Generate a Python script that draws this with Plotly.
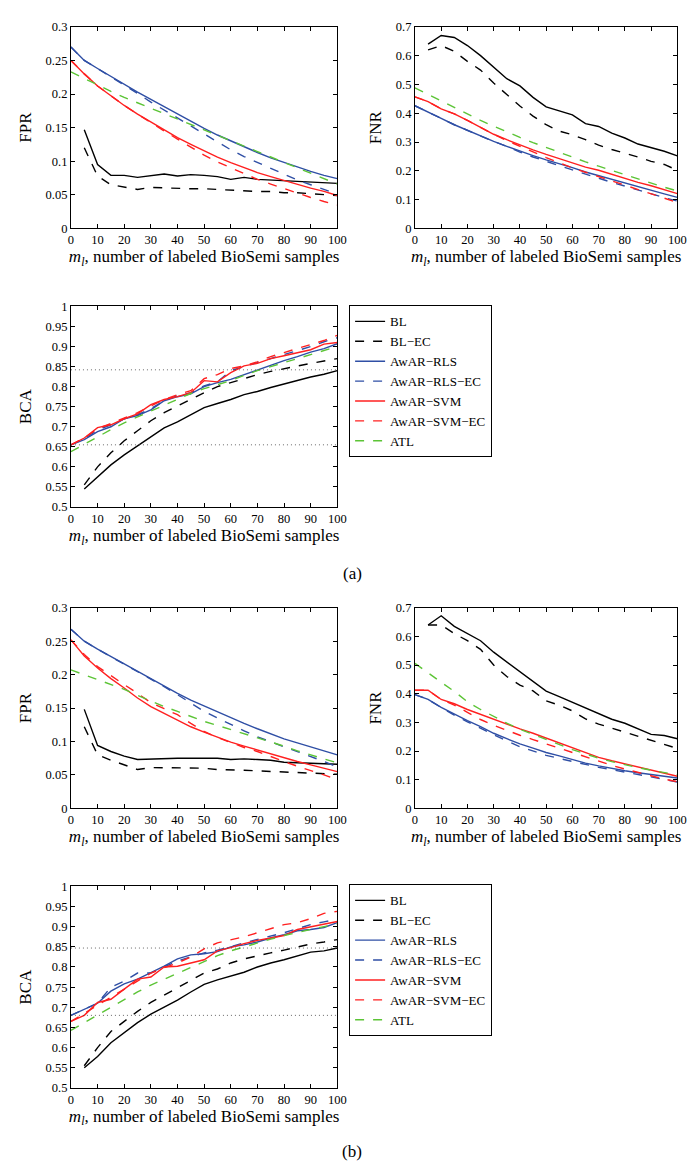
import plotly.graph_objects as go

X = [0, 5, 10, 15, 20, 25, 30, 35, 40, 45, 50, 55, 60, 65, 70, 75, 80, 85, 90, 95, 100]
N = None

names = ["BL", "BL−EC", "AwAR−RLS", "AwAR−RLS−EC", "AwAR−SVM", "AwAR−SVM−EC", "ATL"]
colors = ["#000000", "#000000", "#2f4fa5", "#2f4fa5", "#ff2020", "#ff2020", "#5cc436"]
dashes = ["solid", "dash", "solid", "dash", "solid", "dash", "dash"]

# ---------- (a) FPR ----------
a_fpr_bl = [N, 0.147, 0.095, 0.079, 0.079, 0.076, 0.079, 0.081, 0.078, 0.080, 0.079, 0.077, 0.073, 0.076, 0.073, 0.072, 0.071, 0.070, 0.068, 0.067, 0.067]
a_fpr_blec = [N, 0.120, 0.078, 0.065, 0.061, 0.058, 0.061, 0.060, 0.059, 0.059, 0.059, 0.058, 0.056, 0.055, 0.055, 0.055, 0.053, 0.053, 0.052, 0.050, 0.049]
a_fpr_rls = [0.270, 0.250, 0.238, 0.226, 0.214, 0.203, 0.192, 0.181, 0.170, 0.159, 0.149, 0.139, 0.130, 0.121, 0.113, 0.105, 0.098, 0.091, 0.085, 0.079, 0.074]
a_fpr_rlsec = [0.270, 0.250, 0.238, 0.226, 0.213, 0.201, 0.188, 0.176, 0.164, 0.152, 0.141, 0.129, 0.117, 0.107, 0.098, 0.089, 0.080, 0.072, 0.065, 0.058, 0.051]
a_fpr_svm = [0.250, 0.230, 0.212, 0.197, 0.183, 0.170, 0.158, 0.146, 0.135, 0.125, 0.115, 0.106, 0.098, 0.090, 0.083, 0.077, 0.071, 0.065, 0.060, 0.055, 0.049]
a_fpr_svmec = [0.250, 0.230, 0.212, 0.197, 0.183, 0.170, 0.157, 0.145, 0.133, 0.121, 0.109, 0.099, 0.090, 0.081, 0.073, 0.066, 0.059, 0.052, 0.046, 0.040, 0.035]
a_fpr_atl = [0.233, 0.223, 0.213, 0.204, 0.195, 0.187, 0.178, 0.170, 0.162, 0.154, 0.146, 0.138, 0.130, 0.122, 0.114, 0.106, 0.098, 0.090, 0.082, 0.074, 0.066]

# ---------- (a) FNR ----------
a_fnr_bl = [N, 0.640, 0.670, 0.663, 0.635, 0.600, 0.560, 0.520, 0.495, 0.455, 0.422, 0.408, 0.394, 0.364, 0.354, 0.331, 0.314, 0.293, 0.280, 0.268, 0.252]
a_fnr_blec = [N, 0.620, 0.635, 0.615, 0.580, 0.550, 0.505, 0.465, 0.425, 0.390, 0.360, 0.338, 0.325, 0.308, 0.289, 0.274, 0.262, 0.248, 0.233, 0.222, 0.202]
a_fnr_rls = [0.426, 0.405, 0.382, 0.360, 0.340, 0.322, 0.302, 0.285, 0.268, 0.253, 0.238, 0.225, 0.211, 0.196, 0.183, 0.170, 0.158, 0.146, 0.133, 0.120, 0.108]
a_fnr_rlsec = [0.426, 0.405, 0.382, 0.360, 0.340, 0.322, 0.302, 0.285, 0.265, 0.248, 0.232, 0.218, 0.203, 0.188, 0.174, 0.160, 0.147, 0.133, 0.120, 0.107, 0.095]
a_fnr_svm = [0.457, 0.440, 0.415, 0.398, 0.375, 0.350, 0.327, 0.308, 0.290, 0.273, 0.257, 0.242, 0.228, 0.213, 0.202, 0.188, 0.173, 0.160, 0.148, 0.135, 0.121]
a_fnr_svmec = [0.457, 0.440, 0.415, 0.398, 0.375, 0.350, 0.327, 0.305, 0.285, 0.265, 0.246, 0.228, 0.210, 0.195, 0.180, 0.164, 0.149, 0.135, 0.120, 0.105, 0.090]
a_fnr_atl = [0.488, 0.465, 0.442, 0.419, 0.397, 0.375, 0.355, 0.335, 0.316, 0.298, 0.281, 0.264, 0.247, 0.231, 0.216, 0.201, 0.186, 0.171, 0.157, 0.143, 0.130]

# ---------- (a) BCA ----------
a_bca_bl = [N, 0.545, 0.575, 0.605, 0.630, 0.652, 0.675, 0.697, 0.712, 0.730, 0.748, 0.758, 0.768, 0.780, 0.788, 0.798, 0.807, 0.816, 0.824, 0.831, 0.840]
a_bca_blec = [N, 0.555, 0.600, 0.635, 0.665, 0.690, 0.715, 0.735, 0.752, 0.768, 0.785, 0.800, 0.810, 0.820, 0.830, 0.838, 0.845, 0.852, 0.858, 0.864, 0.870]
a_bca_rls = [0.655, 0.668, 0.688, 0.700, 0.720, 0.728, 0.742, 0.765, 0.775, 0.782, 0.800, 0.810, 0.818, 0.830, 0.840, 0.852, 0.865, 0.875, 0.886, 0.895, 0.907]
a_bca_rlsec = [0.655, 0.670, 0.692, 0.705, 0.720, 0.730, 0.745, 0.765, 0.778, 0.785, 0.802, 0.812, 0.840, 0.850, 0.860, 0.870, 0.880, 0.890, 0.900, 0.912, 0.922]
a_bca_svm = [0.655, 0.672, 0.698, 0.705, 0.720, 0.732, 0.755, 0.768, 0.775, 0.785, 0.815, 0.812, 0.835, 0.852, 0.858, 0.870, 0.877, 0.884, 0.892, 0.906, 0.910]
a_bca_svmec = [0.655, 0.672, 0.695, 0.708, 0.720, 0.735, 0.752, 0.768, 0.780, 0.790, 0.820, 0.830, 0.845, 0.852, 0.862, 0.875, 0.885, 0.895, 0.905, 0.915, 0.928]
a_bca_atl = [0.638, 0.657, 0.675, 0.693, 0.710, 0.725, 0.740, 0.755, 0.770, 0.783, 0.795, 0.805, 0.815, 0.828, 0.840, 0.850, 0.860, 0.870, 0.880, 0.890, 0.900]
a_bca_ref = [0.655, 0.842]

# ---------- (b) FPR ----------
b_fpr_bl = [N, 0.148, 0.094, 0.085, 0.078, 0.073, 0.074, 0.074, 0.075, 0.075, 0.075, 0.075, 0.073, 0.074, 0.073, 0.072, 0.069, 0.068, 0.067, 0.066, 0.066]
b_fpr_blec = [N, 0.122, 0.080, 0.072, 0.065, 0.058, 0.061, 0.061, 0.060, 0.060, 0.060, 0.058, 0.058, 0.057, 0.056, 0.055, 0.054, 0.053, 0.053, 0.052, 0.051]
b_fpr_rls = [0.268, 0.250, 0.238, 0.227, 0.215, 0.204, 0.193, 0.183, 0.172, 0.162, 0.153, 0.144, 0.135, 0.127, 0.119, 0.111, 0.104, 0.098, 0.092, 0.086, 0.080]
b_fpr_rlsec = [0.268, 0.250, 0.238, 0.227, 0.215, 0.204, 0.193, 0.182, 0.170, 0.157, 0.145, 0.135, 0.125, 0.116, 0.107, 0.099, 0.092, 0.085, 0.078, 0.070, 0.062]
b_fpr_svm = [0.252, 0.228, 0.210, 0.194, 0.180, 0.165, 0.152, 0.142, 0.132, 0.122, 0.114, 0.106, 0.099, 0.093, 0.087, 0.081, 0.075, 0.070, 0.065, 0.060, 0.055]
b_fpr_svmec = [0.252, 0.230, 0.212, 0.198, 0.185, 0.172, 0.158, 0.149, 0.140, 0.127, 0.115, 0.106, 0.098, 0.091, 0.085, 0.077, 0.070, 0.063, 0.057, 0.050, 0.043]
b_fpr_atl = [0.207, 0.200, 0.193, 0.185, 0.178, 0.169, 0.160, 0.152, 0.145, 0.137, 0.130, 0.124, 0.118, 0.111, 0.105, 0.099, 0.093, 0.086, 0.080, 0.074, 0.068]

# ---------- (b) FNR ----------
b_fnr_bl = [N, 0.640, 0.672, 0.635, 0.610, 0.585, 0.545, 0.511, 0.478, 0.443, 0.409, 0.390, 0.370, 0.352, 0.330, 0.311, 0.297, 0.278, 0.258, 0.254, 0.243]
b_fnr_blec = [N, 0.640, 0.640, 0.610, 0.585, 0.555, 0.500, 0.460, 0.430, 0.410, 0.375, 0.360, 0.340, 0.312, 0.294, 0.280, 0.266, 0.250, 0.237, 0.223, 0.209]
b_fnr_rls = [0.397, 0.380, 0.352, 0.328, 0.306, 0.285, 0.262, 0.243, 0.225, 0.210, 0.195, 0.183, 0.170, 0.158, 0.148, 0.139, 0.131, 0.124, 0.118, 0.112, 0.106]
b_fnr_rlsec = [0.397, 0.380, 0.352, 0.325, 0.302, 0.280, 0.256, 0.235, 0.215, 0.200, 0.185, 0.174, 0.163, 0.152, 0.143, 0.135, 0.127, 0.119, 0.110, 0.101, 0.092]
b_fnr_svm = [0.412, 0.412, 0.380, 0.365, 0.345, 0.328, 0.312, 0.293, 0.277, 0.262, 0.245, 0.228, 0.210, 0.194, 0.178, 0.166, 0.155, 0.144, 0.133, 0.122, 0.112]
b_fnr_svmec = [0.412, 0.412, 0.380, 0.360, 0.335, 0.310, 0.290, 0.272, 0.255, 0.240, 0.225, 0.210, 0.195, 0.178, 0.163, 0.150, 0.137, 0.125, 0.113, 0.102, 0.093]
b_fnr_atl = [0.506, 0.472, 0.440, 0.408, 0.372, 0.345, 0.320, 0.297, 0.276, 0.258, 0.240, 0.222, 0.205, 0.190, 0.175, 0.163, 0.152, 0.142, 0.133, 0.125, 0.117]

# ---------- (b) BCA ----------
b_bca_bl = [N, 0.550, 0.578, 0.612, 0.638, 0.662, 0.683, 0.700, 0.718, 0.738, 0.757, 0.768, 0.778, 0.787, 0.800, 0.810, 0.818, 0.828, 0.837, 0.840, 0.847]
b_bca_blec = [N, 0.555, 0.600, 0.640, 0.665, 0.690, 0.712, 0.730, 0.750, 0.768, 0.785, 0.795, 0.810, 0.820, 0.828, 0.835, 0.842, 0.850, 0.857, 0.862, 0.868]
b_bca_rls = [0.680, 0.695, 0.710, 0.740, 0.758, 0.770, 0.785, 0.802, 0.820, 0.830, 0.833, 0.838, 0.850, 0.855, 0.862, 0.872, 0.880, 0.890, 0.893, 0.898, 0.910]
b_bca_rlsec = [0.680, 0.695, 0.710, 0.750, 0.765, 0.785, 0.785, 0.800, 0.815, 0.825, 0.835, 0.842, 0.850, 0.860, 0.868, 0.877, 0.885, 0.895, 0.905, 0.912, 0.918]
b_bca_svm = [0.665, 0.680, 0.712, 0.720, 0.745, 0.770, 0.775, 0.800, 0.802, 0.810, 0.818, 0.840, 0.848, 0.858, 0.866, 0.872, 0.878, 0.893, 0.900, 0.907, 0.913]
b_bca_svmec = [0.665, 0.685, 0.705, 0.725, 0.745, 0.765, 0.785, 0.798, 0.810, 0.825, 0.845, 0.860, 0.868, 0.875, 0.885, 0.895, 0.905, 0.910, 0.920, 0.933, 0.938]
b_bca_atl = [0.643, 0.662, 0.680, 0.700, 0.720, 0.738, 0.755, 0.770, 0.785, 0.800, 0.815, 0.828, 0.840, 0.850, 0.860, 0.869, 0.878, 0.886, 0.893, 0.900, 0.907]
b_bca_ref = [0.680, 0.847]

x_ticks = [0, 10, 20, 30, 40, 50, 60, 70, 80, 90, 100]
fpr_ticks = [0, 0.05, 0.1, 0.15, 0.2, 0.25, 0.3]
fnr_ticks = [0, 0.1, 0.2, 0.3, 0.4, 0.5, 0.6, 0.7]
bca_ticks = [0.5, 0.55, 0.6, 0.65, 0.7, 0.75, 0.8, 0.85, 0.9, 0.95, 1]
fpr_ticktext = ["0", "0.05", "0.1", "0.15", "0.2", "0.25", "0.3"]
fnr_ticktext = ["0", "0.1", "0.2", "0.3", "0.4", "0.5", "0.6", "0.7"]
bca_ticktext = ["0.5", "0.55", "0.6", "0.65", "0.7", "0.75", "0.8", "0.85", "0.9", "0.95", "1"]

FONT = "Liberation Serif, Times New Roman, serif"
W, H = 699, 1162

panels = [
    ([a_fpr_bl, a_fpr_blec, a_fpr_rls, a_fpr_rlsec, a_fpr_svm, a_fpr_svmec, a_fpr_atl], "FPR", [0, 0.3], fpr_ticks, fpr_ticktext, (61, 332), (12, 216), None, None),
    ([a_fnr_bl, a_fnr_blec, a_fnr_rls, a_fnr_rlsec, a_fnr_svm, a_fnr_svmec, a_fnr_atl], "FNR", [0, 0.7], fnr_ticks, fnr_ticktext, (411, 678), (12, 216), None, None),
    ([a_bca_bl, a_bca_blec, a_bca_rls, a_bca_rlsec, a_bca_svm, a_bca_svmec, a_bca_atl], "BCA", [0.5, 1], bca_ticks, bca_ticktext, (61, 332), (295, 498), "legend", a_bca_ref),
    ([b_fpr_bl, b_fpr_blec, b_fpr_rls, b_fpr_rlsec, b_fpr_svm, b_fpr_svmec, b_fpr_atl], "FPR", [0, 0.3], fpr_ticks, fpr_ticktext, (61, 332), (600, 803), None, None),
    ([b_fnr_bl, b_fnr_blec, b_fnr_rls, b_fnr_rlsec, b_fnr_svm, b_fnr_svmec, b_fnr_atl], "FNR", [0, 0.7], fnr_ticks, fnr_ticktext, (411, 678), (600, 803), None, None),
    ([b_bca_bl, b_bca_blec, b_bca_rls, b_bca_rlsec, b_bca_svm, b_bca_svmec, b_bca_atl], "BCA", [0.5, 1], bca_ticks, bca_ticktext, (61, 332), (882, 1086), "legend2", b_bca_ref),
]

fig = go.Figure()
layout = dict(
    width=W, height=H, margin=dict(l=0, r=0, t=0, b=0),
    paper_bgcolor="white", plot_bgcolor="white",
    font=dict(family=FONT, size=12, color="black"),
    shapes=[], annotations=[],
)

xtitle = "<i>m</i><sub><i>l</i></sub>, number of labeled BioSemi samples"

for i, (series, ylab, yr, yt, ytt, xd, yd, leg, refs) in enumerate(panels):
    k = "" if i == 0 else str(i + 1)
    xa, ya = "x" + k, "y" + k
    for j, s in enumerate(series):
        tr = dict(
            x=X, y=s, mode="lines", name=names[j], xaxis=xa, yaxis=ya,
            line=dict(color=colors[j], width=1.4, dash=dashes[j]),
            showlegend=leg is not None,
        )
        if leg is not None:
            tr["legend"] = leg
        fig.add_trace(go.Scatter(**tr))
    axcommon = dict(showline=True, linecolor="black", linewidth=1, mirror="ticks",
                    ticks="inside", ticklen=4, tickcolor="black", showgrid=False,
                    zeroline=False, tickfont=dict(family=FONT, size=12.5, color="black"))
    layout["xaxis" + k] = dict(
        domain=[xd[0] / W, xd[1] / W], anchor=ya, range=[0, 100],
        tickvals=x_ticks, title=dict(text=xtitle, font=dict(family=FONT, size=17), standoff=0),
        **axcommon)
    layout["yaxis" + k] = dict(
        domain=[1 - yd[1] / H, 1 - yd[0] / H], anchor=xa, range=yr,
        tickvals=yt, ticktext=ytt, title=dict(text=ylab, font=dict(family=FONT, size=17), standoff=9),
        **axcommon)
    if refs is not None:
        for v in refs:
            layout["shapes"].append(dict(type="line", xref=xa + " domain", yref=ya,
                                         x0=0, x1=1, y0=v, y1=v,
                                         line=dict(color="#444444", width=0.8, dash="1px,3px")))

legstyle = dict(bordercolor="black", borderwidth=1, bgcolor="white",
                font=dict(family=FONT, size=13, color="black"),
                xanchor="left", yanchor="top", tracegroupgap=0)
layout["legend"] = dict(x=344 / W, y=1 - 294 / H, **legstyle)
layout["legend2"] = dict(x=344 / W, y=1 - 880 / H, **legstyle)

layout["annotations"].append(dict(text="(a)", x=347 / W, y=1 - 565 / H, xref="paper", yref="paper",
                                  xanchor="center", yanchor="middle",
                                  showarrow=False, font=dict(family=FONT, size=17)))
layout["annotations"].append(dict(text="(b)", x=347 / W, y=1 - 1150 / H, xref="paper", yref="paper",
                                  xanchor="center", yanchor="middle",
                                  showarrow=False, font=dict(family=FONT, size=17)))

fig.update_layout(**layout)
fig.write_html("out.html")
